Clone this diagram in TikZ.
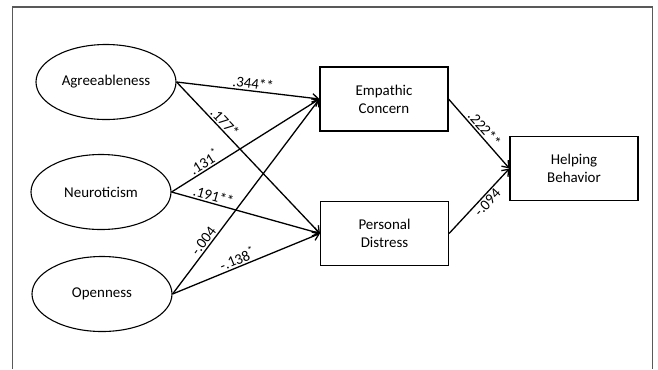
\documentclass[tikz,border=0pt]{standalone}
\usepackage{fontspec}
\setmainfont{Carlito}
\usetikzlibrary{shapes.geometric,arrows.meta}

\begin{document}
\begin{tikzpicture}[x=1bp,y=-1bp,
    trait/.style={draw,ellipse,line width=1.1bp,minimum width=140bp,minimum height=75bp,font=\fontsize{15}{18}\selectfont},
    outcome/.style={draw,rectangle,line width=1.1bp,minimum width=128bp,minimum height=64bp,align=center,font=\fontsize{15}{18}\selectfont},
    path/.style={line width=1.3bp,-{Straight Barb[length=6bp,width=9bp]}},
    coef/.style={sloped,inner sep=1.5bp,font=\fontsize{15}{17}\selectfont}]
    \useasboundingbox (0,0) rectangle (658,369);
    % Draw the frame
    \draw[black!65,line width=1.3bp] (12.5,369) |- (652.5,7) -- (652.5,369); % open at the bottom

    % Personality traits
    \node[trait] (agr) at (106,82) {Agreeableness};
    \node[trait] (neu) at (101,192) {Neuroticism};
    \node[trait] (opn) at (102,294) {Openness};

    % Mediators and outcome
    \node[outcome] (ec) at (384,99) {Empathic\\Concern};
    \node[outcome] (pd) at (384.5,233.5) {Personal\\Distress};
    \node[outcome] (hb) at (574,168.5) {Helping\\Behavior};

    % Paths from the traits
    \draw[path] (agr.east) -- node[coef,above,pos=0.53] {.344**} (ec.west);
    \draw[path] (agr.east) -- node[coef,above,pos=0.3] {.177*} (pd.west);
    \draw[path] (neu.east) -- node[coef,above,pos=0.25] {.131\textsuperscript{*}} (ec.west);
    \draw[path] (neu.east) -- node[coef,above,pos=0.27] {.191**} (pd.west);
    \draw[path] (opn.east) -- node[coef,above,pos=0.25] {-.004} (ec.west);
    \draw[path] (opn.east) -- node[coef,above,pos=0.46] {-.138\textsuperscript{*}} (pd.west);

    % Paths to helping
    \draw[path] (ec.east) -- node[coef,above,pos=0.5] {.222**} (hb.west);
    \draw[path] (pd.east) -- node[coef,below,pos=0.55] {-.094} (hb.west);
\end{tikzpicture}
\end{document}
